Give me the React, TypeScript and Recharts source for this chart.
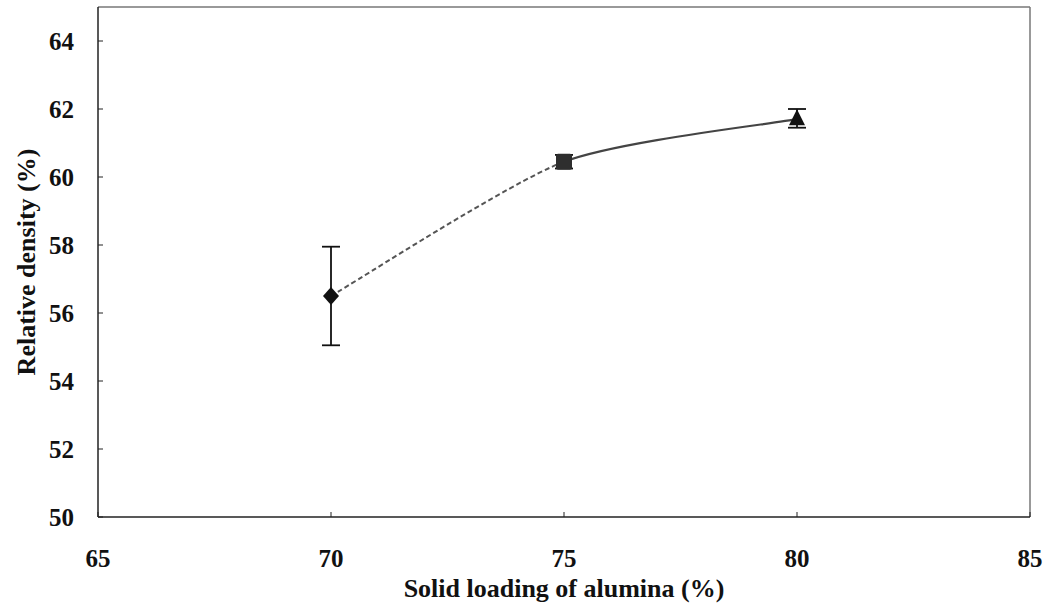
import React from 'react';
import {
  ComposedChart,
  Line,
  Scatter,
  ErrorBar,
  XAxis,
  YAxis,
  ReferenceLine,
} from 'recharts';

// solid loading (%) vs relative density (%)
const solidLoading = [70, 75, 80];
const relativeDensity = [56.5, 60.45, 61.7];
const errorLow = [1.45, 0.2, 0.25];
const errorHigh = [1.45, 0.2, 0.3];
const markers = ['diamond', 'square', 'triangle'];

const xTicks = [65, 70, 75, 80, 85];
const yTicks = [50, 52, 54, 56, 58, 60, 62, 64];

const points = solidLoading.map((x, i) => ({
  x,
  y: relativeDensity[i],
  err: [errorLow[i], errorHigh[i]],
  marker: markers[i],
}));

// the curve is dashed up to the middle sample and solid after it
const splitAt =
  (solidLoading[1] - solidLoading[0]) /
  (solidLoading[solidLoading.length - 1] - solidLoading[0]);

// cardinal spline, softer than monotone (spreadsheet-style smoothed line)
const cardinal = (tension: number) => {
  const k = (1 - tension) / 6;
  return (context: any) => {
    let pts: number[][] = [];
    return {
      areaStart() {},
      areaEnd() {},
      lineStart() {
        pts = [];
      },
      point(x: number, y: number) {
        pts.push([+x, +y]);
      },
      lineEnd() {
        const n = pts.length;
        if (!n) return;
        context.moveTo(pts[0][0], pts[0][1]);
        for (let i = 0; i < n - 1; i++) {
          const p0 = pts[Math.max(i - 1, 0)];
          const p1 = pts[i];
          const p2 = pts[i + 1];
          const p3 = pts[Math.min(i + 2, n - 1)];
          context.bezierCurveTo(
            p1[0] + k * (p2[0] - p0[0]),
            p1[1] + k * (p2[1] - p0[1]),
            p2[0] - k * (p3[0] - p1[0]),
            p2[1] - k * (p3[1] - p1[1]),
            p2[0],
            p2[1]
          );
        }
      },
    };
  };
};

const smooth = cardinal(0.3);

const serif = 'Liberation Serif, DejaVu Serif, serif';

const font = {
  fontFamily: serif,
  fontWeight: 'bold',
  fill: '#111',
};

const MarkerShape = (props: any) => {
  const { cx, cy, payload } = props;
  if (cx == null || cy == null) return <g />;
  if (payload.marker === 'diamond') {
    return (
      <polygon
        points={`${cx},${cy - 9} ${cx + 8},${cy} ${cx},${cy + 9} ${cx - 8},${cy}`}
        fill="#111"
      />
    );
  }
  if (payload.marker === 'square') {
    return (
      <rect x={cx - 8} y={cy - 8} width={16} height={16} rx={2} fill="#2e2e2e" />
    );
  }
  return (
    <polygon
      points={`${cx},${cy - 10} ${cx + 8},${cy + 6} ${cx - 8},${cy + 6}`}
      fill="#111"
    />
  );
};

const App = () => {
  return (
    <div
      style={{
        position: 'absolute',
        left: 0,
        top: 0,
        background: '#fff',
        fontFamily: serif,
      }}
    >
      <ComposedChart
        width={1058}
        height={608}
        data={points}
        margin={{ top: 7, right: 28, left: 0, bottom: 0 }}
        style={{ fontFamily: serif }}
      >
        <defs>
          <linearGradient id="dashedPart" x1="0" y1="0" x2="1" y2="0">
            <stop offset={splitAt} stopColor="#555" stopOpacity={1} />
            <stop offset={splitAt} stopColor="#555" stopOpacity={0} />
          </linearGradient>
          <linearGradient id="solidPart" x1="0" y1="0" x2="1" y2="0">
            <stop offset={splitAt} stopColor="#444" stopOpacity={0} />
            <stop offset={splitAt} stopColor="#444" stopOpacity={1} />
          </linearGradient>
        </defs>

        <XAxis
          dataKey="x"
          type="number"
          domain={[65, 85]}
          ticks={xTicks}
          height={91}
          axisLine={{ stroke: '#222', strokeWidth: 1.5 }}
          tickLine={{ stroke: '#222' }}
          tickSize={-5}
          tickMargin={37}
          tick={{ ...font, fontSize: 25, style: { fontFamily: serif } }}
          label={{
            value: 'Solid loading of alumina (%)',
            position: 'insideBottom',
            offset: 11,
            style: { ...font, fontSize: 26 },
          }}
        />
        <YAxis
          type="number"
          domain={[50, 65]}
          ticks={yTicks}
          width={98}
          axisLine={{ stroke: '#222', strokeWidth: 1.5 }}
          tickLine={{ stroke: '#222' }}
          tickSize={-5}
          tickMargin={29}
          tick={{ ...font, fontSize: 25, style: { fontFamily: serif } }}
          label={{
            value: 'Relative density (%)',
            angle: -90,
            position: 'insideLeft',
            offset: 26,
            style: { ...font, fontSize: 26, textAnchor: 'middle' },
          }}
        />

        {/* top and right frame */}
        <ReferenceLine y={65} stroke="#777" strokeWidth={1.5} />
        <ReferenceLine x={85} stroke="#777" strokeWidth={1.5} />

        <Line
          dataKey="y"
          type={smooth as any}
          stroke="url(#dashedPart)"
          strokeWidth={2}
          strokeDasharray="5 3"
          dot={false}
          activeDot={false}
          isAnimationActive={false}
        />
        <Line
          dataKey="y"
          type={smooth as any}
          stroke="url(#solidPart)"
          strokeWidth={2.2}
          dot={false}
          activeDot={false}
          isAnimationActive={false}
        />

        <Scatter
          data={points}
          dataKey="y"
          shape={<MarkerShape />}
          isAnimationActive={false}
        >
          <ErrorBar
            dataKey="err"
            direction="y"
            width={9}
            stroke="#111"
            strokeWidth={1.8}
            isAnimationActive={false}
          />
        </Scatter>
      </ComposedChart>
    </div>
  );
};

export default App;
